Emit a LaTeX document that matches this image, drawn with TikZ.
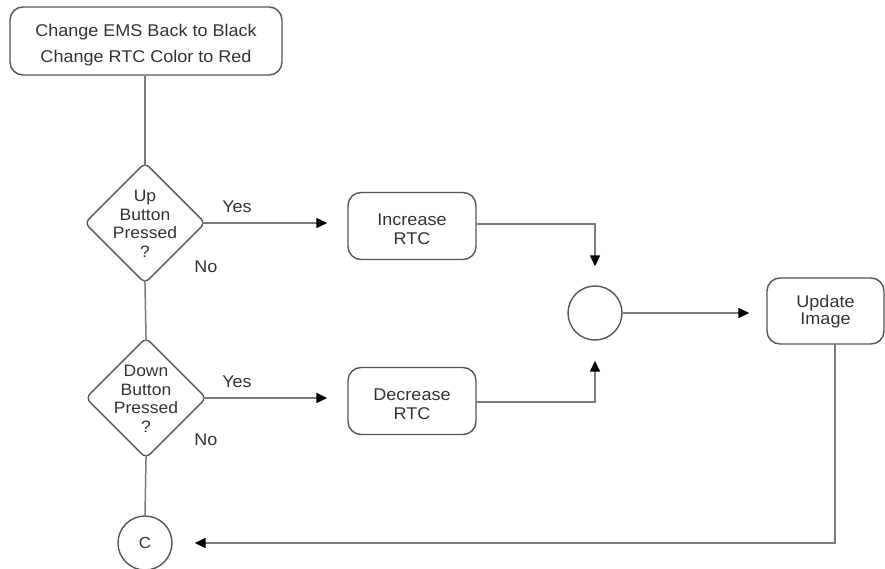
\documentclass[tikz,border=0pt]{standalone}
\usepackage{fontspec}
\setmainfont{Liberation Sans}[FakeStretch=1.06]
\usetikzlibrary{shapes.geometric,arrows.meta}
\definecolor{boxline}{HTML}{555555}
\definecolor{conline}{HTML}{7A7A7A}
\definecolor{txt}{HTML}{333333}
\begin{document}
\begin{tikzpicture}[x=1pt,y=-1pt,
  every node/.style={text=txt,font=\fontsize{17}{19}\selectfont},
  rbox/.style={draw=boxline,line width=1.4pt,rounded corners=13pt,inner sep=0pt},
  btext/.style={align=center,inner sep=0pt},
  dia/.style={draw=boxline,line width=1.4pt,shape=diamond,rounded corners=6pt,minimum width=121pt,minimum height=121pt,inner sep=0pt},
  dtext/.style={align=center,inner sep=0pt,font=\fontsize{16.5}{18.5}\selectfont},
  junc/.style={draw=boxline,line width=1.4pt,circle,minimum size=54pt,inner sep=0pt},
  con/.style={draw=conline,line width=1.5pt},
  arr/.style={con,-{Triangle[length=11pt,width=10pt,color=black]}},
  lbl/.style={inner sep=0pt}
]
\useasboundingbox (0,0) rectangle (885,569);

\node[rbox,minimum width=272pt,minimum height=68pt] (top) at (146,41) {};
\node[btext,font=\fontsize{17}{25.5}\selectfont] (topt) at (146,45) {Change EMS Back to Black\\Change RTC Color to Red};

\node[dia] (d1) at (145,223) {};
\node[dtext] (d1t) at (145,224) {Up\\Button\\Pressed\\?};
\node[dia] (d2) at (146,398) {};
\node[dtext] (d2t) at (146,399) {Down\\Button\\Pressed\\?};

\node[rbox,minimum width=128pt,minimum height=67pt] (inc) at (412,226) {};
\node[btext] (inct) at (412,229) {Increase\\RTC};
\node[rbox,minimum width=128pt,minimum height=67pt] (dec) at (412,401) {};
\node[btext] (dect) at (412,404) {Decrease\\RTC};

\node[junc] (j) at (595,313) {};
\node[rbox,minimum width=117pt,minimum height=66pt] (upd) at (825.5,311) {};
\node[btext,font=\fontsize{17}{17.5}\selectfont] (updt) at (825.5,311.5) {Update\\Image};

\node[draw=boxline,line width=1.4pt,circle,minimum size=54pt,inner sep=0pt,font=\fontsize{16}{16}\selectfont] (c) at (145,543) {C};

\node[lbl] (y1) at (237,207) {Yes};
\node[lbl] (n1) at (206,267) {No};
\node[lbl] (y2) at (237,382) {Yes};
\node[lbl] (n2) at (206,440) {No};

\draw[con,shorten >=-4pt] (top.south -| d1.north) -- (d1.north);
\draw[con,shorten <=-4pt,shorten >=-4pt] (d1.south) -- (d2.north);
\draw[con,shorten <=-4pt] (d2.south) -- (c.north);

\draw[arr,shorten >=20pt,shorten <=-4pt] (d1.east) -- (d1.east -| inc.west);
\draw[arr,shorten >=20pt,shorten <=-4pt] (d2.east) -- (d2.east -| dec.west);

\draw[arr,shorten >=19pt] (inc.east |- 0,224) -| (j.north);
\draw[arr,shorten >=20pt] (dec.east |- 0,402) -| (j.south);

\draw[arr,shorten >=17pt] (j.east) -- (j.east -| upd.west);

\coordinate (ud) at (835,344);
\draw[arr,shorten >=22pt] (ud) |- (c.east);
\end{tikzpicture}
\end{document}
